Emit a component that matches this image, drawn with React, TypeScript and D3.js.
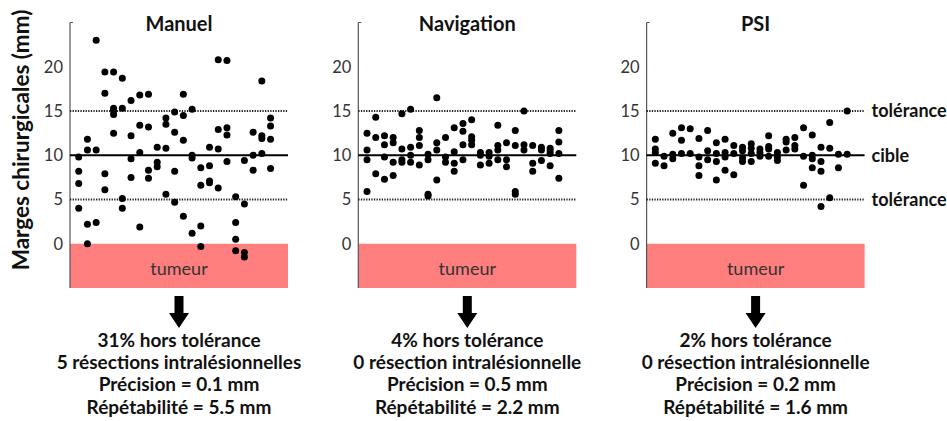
import { useRef, useEffect } from "react";
import * as d3 from "d3";

// one inner array per column of dots, values in mm
const manuelValues: number[][] = [
  [9.8, 8.2, 6.8, 4.0],
  [11.8, 10.6, 2.2, 0.0],
  [23.0, 10.6, 2.4],
  [19.4, 17.0, 7.9, 6.1],
  [19.4, 15.3, 15.0, 14.6, 12.5],
  [18.7, 15.3, 5.1, 4.0],
  [16.2, 12.2, 9.6, 7.5],
  [16.8, 13.4, 10.3, 1.9],
  [16.9, 13.2, 8.3, 7.4],
  [10.9, 9.2, 8.7],
  [14.2, 13.5, 10.8, 5.6],
  [14.9, 12.6, 8.2, 4.7],
  [16.9, 14.5, 11.7, 3.1],
  [15.2, 10.0, 9.7, 1.2],
  [8.6, 6.6, 2.0, -0.3],
  [10.9, 8.8, 7.1, 6.9],
  [20.8, 12.9, 10.7, 6.3],
  [20.7, 13.1, 12.3, 9.3],
  [5.3, 2.4, 0.5, -0.8],
  [9.4, 4.5, -1.0, -1.5],
  [12.6, 10.0, 8.3],
  [18.4, 12.2, 11.9, 10.2],
  [14.2, 13.3, 11.8, 8.5],
];

const navigationValues: number[][] = [
  [12.5, 10.6, 9.5, 5.9],
  [14.3, 12.0, 7.9],
  [12.2, 11.2, 9.8, 7.3],
  [12.0, 11.4, 9.2, 7.7],
  [14.7, 10.7, 9.5, 9.2],
  [15.2, 10.9, 10.0, 9.2],
  [12.8, 12.0, 11.1, 8.9],
  [10.1, 9.5, 5.6, 5.4],
  [16.5, 11.4, 10.6, 7.2],
  [12.0, 9.8, 9.2],
  [13.1, 10.4, 9.1, 8.2],
  [13.6, 12.7, 11.2, 9.5],
  [14.0, 12.1, 11.7, 11.2],
  [10.3, 10.0, 8.9],
  [10.3, 9.9, 9.1],
  [13.4, 11.1, 10.6, 9.5],
  [11.4, 9.5, 8.7],
  [12.8, 11.1, 5.9, 5.6],
  [15.0, 11.2, 10.6],
  [11.1, 9.1, 8.2],
  [10.9, 10.6, 9.4],
  [10.8, 10.5, 10.2, 8.8],
  [12.8, 11.5, 10.2, 7.4],
];

const psiValues: number[][] = [
  [11.8, 10.7, 10.3, 9.1],
  [9.9, 8.8],
  [12.5, 10.1, 9.6],
  [13.1, 11.7, 10.2],
  [13.0, 10.2],
  [11.9, 9.8, 8.8, 7.7],
  [12.8, 10.5, 9.5],
  [11.4, 10.2, 9.3, 7.2],
  [11.8, 10.3, 9.8, 8.3],
  [11.1, 10.2, 7.8],
  [10.9, 10.5, 9.7, 9.3],
  [11.3, 10.8, 10.2, 9.3],
  [10.7, 10.3, 9.9],
  [12.2, 11.0, 10.7, 9.9],
  [10.3, 9.8, 9.4],
  [11.8, 11.5, 10.6],
  [12.0, 11.1, 10.7],
  [13.1, 9.9, 6.6],
  [12.3, 10.0, 9.6, 8.6],
  [10.9, 9.3, 8.2, 4.2],
  [13.7, 10.8, 5.2],
  [10.1, 8.6],
  [15.0, 10.1],
];

const titles = ["Manuel", "Navigation", "PSI"];
const yTicks = [0, 5, 10, 15, 20];
const target = 10;
const tolerances = [5, 15];
const sideLabels = [
  { value: 15, text: "tolérance" },
  { value: 10, text: "cible" },
  { value: 5, text: "tolérance" },
];
const summaries: string[][] = [
  ["31% hors tolérance", "5 résections intralésionnelles", "Précision = 0.1 mm", "Répétabilité = 5.5 mm"],
  ["4% hors tolérance", "0 résection intralésionnelle", "Précision = 0.5 mm", "Répétabilité = 2.2 mm"],
  ["2% hors tolérance", "0 résection intralésionnelle", "Précision = 0.2 mm", "Répétabilité = 1.6 mm"],
];

const FONT = "Lato, 'Open Sans', sans-serif";

export default function App() {
  const svgRef = useRef<SVGSVGElement | null>(null);

  useEffect(() => {
    const width = 947;
    const height = 421;
    const svg = d3.select(svgRef.current);
    svg.selectAll("*").remove();
    svg.attr("width", width).attr("height", height);

    const panels = [manuelValues, navigationValues, psiValues];
    const panelW = 218;
    const panelStep = 288.3;
    const firstX = 70;
    const nCols = manuelValues.length;

    const y = d3.scaleLinear().domain([-5, 25]).range([288, 22.5]);

    // y axis label
    svg
      .append("text")
      .attr("transform", `translate(29,140) rotate(-90)`)
      .attr("text-anchor", "middle")
      .attr("font-family", FONT)
      .attr("font-weight", 700)
      .attr("font-size", 22.5)
      .attr("fill", "#111")
      .text("Marges chirurgicales  (mm)");

    panels.forEach((cols, i) => {
      const x0 = firstX + i * panelStep;
      const x = d3.scaleLinear().domain([-1, nCols + 1]).range([x0, x0 + panelW]);
      const cx = x0 + panelW / 2;
      const g = svg.append("g");

      // tumour band below 0
      g.append("rect")
        .attr("x", x0)
        .attr("y", y(0))
        .attr("width", panelW)
        .attr("height", y(-5) - y(0))
        .attr("fill", "#ff7f7f");
      g.append("text")
        .attr("x", cx)
        .attr("y", y(-3.5))
        .attr("text-anchor", "middle")
        .attr("font-family", FONT)
        .attr("font-size", 18)
        .attr("fill", "#333")
        .text("tumeur");

      // axis
      g.append("line")
        .attr("x1", x0).attr("x2", x0)
        .attr("y1", y(25)).attr("y2", y(-5))
        .attr("stroke", "#555").attr("stroke-width", 1.2);
      g.append("line")
        .attr("x1", x0).attr("x2", x0 + 3)
        .attr("y1", y(25)).attr("y2", y(25))
        .attr("stroke", "#555");
      g.selectAll("text.tick")
        .data(yTicks)
        .join("text")
        .attr("class", "tick")
        .attr("x", x0 - 7)
        .attr("y", (d) => y(d))
        .attr("dy", "0.36em")
        .attr("text-anchor", "end")
        .attr("font-family", FONT)
        .attr("font-size", 16.5)
        .attr("fill", "#333")
        .text((d) => d);

      // reference lines
      g.selectAll("line.tol")
        .data(tolerances)
        .join("line")
        .attr("class", "tol")
        .attr("x1", x0).attr("x2", x0 + panelW)
        .attr("y1", (d) => y(d)).attr("y2", (d) => y(d))
        .attr("stroke", "#222")
        .attr("stroke-width", 2)
        .attr("stroke-dasharray", "1.3,1.3");
      g.append("line")
        .attr("x1", x0).attr("x2", x0 + panelW)
        .attr("y1", y(target)).attr("y2", y(target))
        .attr("stroke", "#000")
        .attr("stroke-width", 1.8);

      // dots
      const pts = cols.flatMap((vals, c) => vals.map((v) => ({ c, v })));
      g.selectAll("circle")
        .data(pts)
        .join("circle")
        .attr("cx", (d) => x(d.c))
        .attr("cy", (d) => y(d.v))
        .attr("r", 3.5)
        .attr("fill", "#000");

      // title
      g.append("text")
        .attr("x", cx)
        .attr("y", 31)
        .attr("text-anchor", "middle")
        .attr("font-family", FONT)
        .attr("font-weight", 700)
        .attr("font-size", 20)
        .attr("fill", "#111")
        .text(titles[i]);

      // arrow
      const ax = cx;
      const arrow = d3.path();
      arrow.moveTo(ax - 4.5, 296);
      arrow.lineTo(ax + 4.5, 296);
      arrow.lineTo(ax + 4.5, 313);
      arrow.lineTo(ax + 10, 313);
      arrow.lineTo(ax, 328);
      arrow.lineTo(ax - 10, 313);
      arrow.lineTo(ax - 4.5, 313);
      arrow.closePath();
      g.append("path").attr("d", arrow.toString()).attr("fill", "#000");

      // summary lines
      g.selectAll("text.summary")
        .data(summaries[i])
        .join("text")
        .attr("class", "summary")
        .attr("x", cx)
        .attr("y", (_, k) => 347 + k * 22.2)
        .attr("text-anchor", "middle")
        .attr("font-family", FONT)
        .attr("font-weight", 700)
        .attr("font-size", 19)
        .attr("fill", "#111")
        .text((d) => d);

      // side labels on the last panel
      if (i === panels.length - 1) {
        g.selectAll("text.side")
          .data(sideLabels)
          .join("text")
          .attr("class", "side")
          .attr("x", x0 + panelW + 7)
          .attr("y", (d) => y(d.value))
          .attr("dy", "0.35em")
          .attr("font-family", FONT)
          .attr("font-weight", 700)
          .attr("font-size", 18)
          .attr("fill", "#111")
          .text((d) => d.text);
      }
    });
  }, []);

  return (
    <div style={{ position: "absolute", left: 0, top: 0 }}>
      <svg ref={svgRef} style={{ display: "block", background: "#fff" }} />
    </div>
  );
}
